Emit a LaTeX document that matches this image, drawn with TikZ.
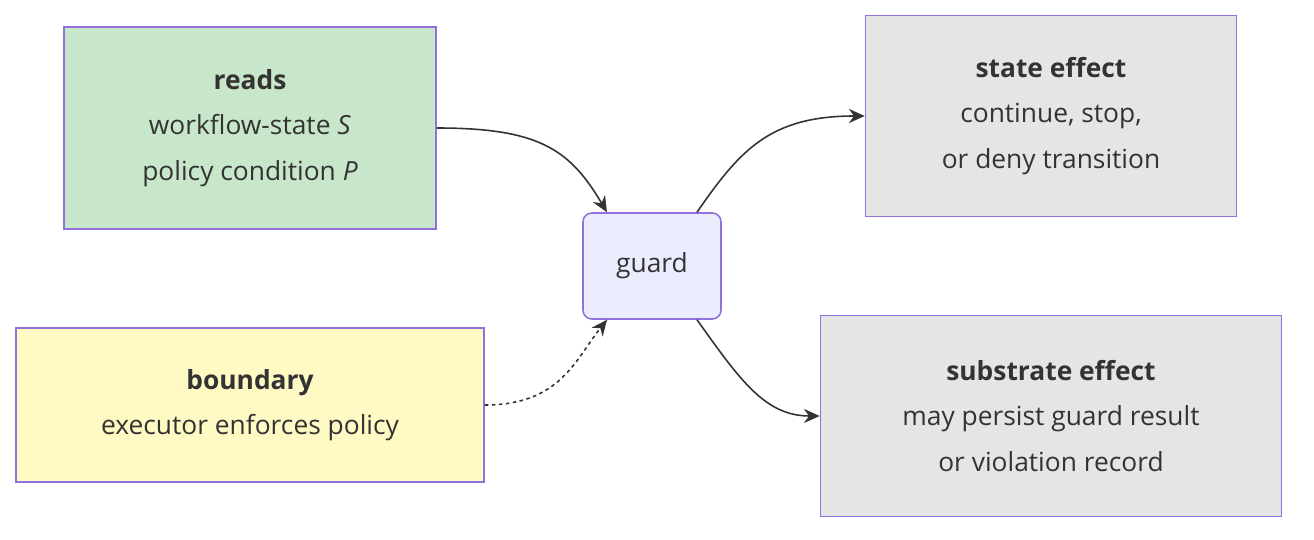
\documentclass[tikz,border=0pt]{standalone}
\usepackage{fontspec}
\setmainfont{Open Sans}
\usetikzlibrary{positioning,arrows.meta}
\definecolor{edgec}{HTML}{9370DB}
\definecolor{readc}{HTML}{C8E6C9}
\definecolor{bndc}{HTML}{FFF9C4}
\definecolor{grdc}{HTML}{ECECFF}
\definecolor{effc}{HTML}{E5E5E5}
\definecolor{txtc}{HTML}{333333}
\begin{document}
\begin{tikzpicture}[x=0.02cm,y=-0.02cm]
\tikzstyle{box}=[draw=edgec, line width=0.9pt, align=center, text=txtc, font=\fontsize{15}{26}\selectfont, inner sep=0pt]
\tikzstyle{arr}=[draw=txtc, line width=0.9pt, -{Stealth[length=9pt,width=8pt]}]
\useasboundingbox (0,0) rectangle (1314,540);

\node[box, fill=readc, minimum width=372*0.02cm, minimum height=202*0.02cm] (R) at (250,128)
  {\textbf{reads}\\workflow-state \textit{S}\\policy condition \textit{P}};
\node[box, fill=bndc, minimum width=468*0.02cm, minimum height=154*0.02cm] (B) at (250,405)
  {\textbf{boundary}\\executor enforces policy};
\node[box, fill=grdc, rounded corners=5pt, minimum width=138*0.02cm, minimum height=106*0.02cm] (G) at (652,266) {guard};
\node[box, fill=effc, minimum width=371*0.02cm, minimum height=201*0.02cm] (S) at (1051,116)
  {\textbf{state effect}\\continue, stop,\\or deny transition};
\node[box, fill=effc, minimum width=461*0.02cm, minimum height=201*0.02cm] (U) at (1051,416)
  {\textbf{substrate effect}\\may persist guard result\\or violation record};

\draw[arr] (R.east) .. controls (540,128) and (570,150) .. ([xshift=-45*0.02cm]G.north);
\draw[arr, dash pattern=on 2pt off 2pt] (B.east) .. controls (560,405) and (575,360) .. ([xshift=-45*0.02cm]G.south);
\draw[arr] ([xshift=45*0.02cm]G.north) .. controls (740,150) and (770,116) .. (S.west);
\draw[arr] ([xshift=45*0.02cm]G.south) .. controls (740,380) and (765,416) .. (U.west);
\end{tikzpicture}
\end{document}
